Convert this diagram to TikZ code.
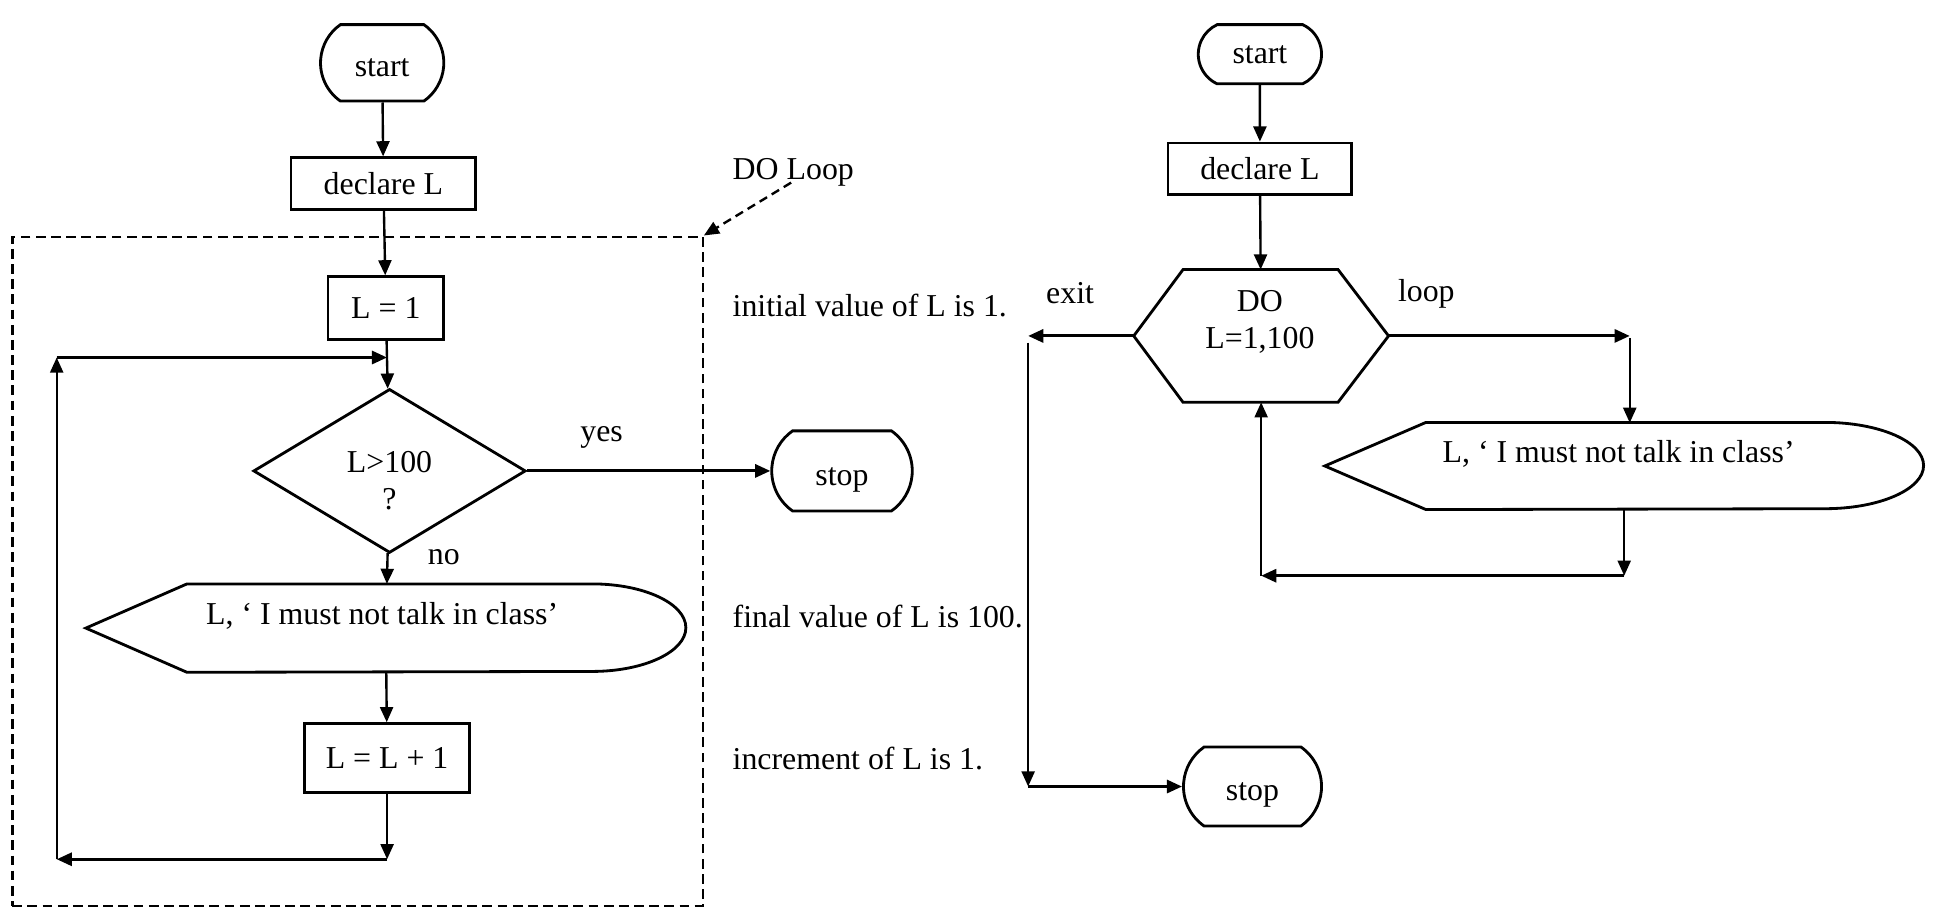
\documentclass[tikz,border=0pt]{standalone}
\usepackage{fontspec}
\setmainfont{Liberation Serif}
\usetikzlibrary{arrows.meta,shapes.geometric,shapes.misc,positioning}

\begin{document}
\begin{tikzpicture}
    [
      every node/.style={font=\fontsize{14.7}{17}\selectfont},
      term/.style={rounded rectangle,rounded rectangle arc length=110,draw,line width=1.3pt,inner sep=0pt},
      low text/.style={text height=16pt,text depth=3pt},
      proc/.style={rectangle,draw,line width=1.3pt,inner sep=0pt},
      test/.style={diamond,draw,line width=1.3pt,inner sep=0pt},
      frame/.style={inner sep=0pt},
      box/.style={draw,line width=1.3pt},
      txt/.style={inner sep=0pt,anchor=west},
      plate/.style={draw,dash pattern=on 4.5pt off 2.5pt,line width=1.1pt,inner sep=0pt},
      post/.style={-{Triangle[length=7pt,width=6pt]},line width=1.1pt},
      wide post/.style={post,line width=1.4pt},
      note/.style={-{Triangle[length=7pt,width=6pt]},dash pattern=on 4pt off 2.5pt,line width=1.1pt},
    ]

    \useasboundingbox (0,0) rectangle (31.36,-14.73);

    % left chart
    \node (start-l) [term,low text,minimum width=2cm,minimum height=1.24cm] at (6.20,-1.02) {start};
    \node (declare-l) [proc,minimum width=3cm,minimum height=0.84cm] at (6.22,-2.98) {declare L};
    \node (init-l) [proc,minimum width=1.88cm,minimum height=1.02cm] at (6.26,-5.00) {L = 1};
    \node (test-l) [test,minimum width=4.42cm,minimum height=2.66cm,
      label={[align=center,yshift=-0.16cm]center:L>100\\?}] at (6.32,-7.64) {};
    \node (stop-l) [term,low text,minimum width=2.28cm,minimum height=1.30cm] at (13.66,-7.64) {stop};
    \node (say-l) [frame,minimum width=9.72cm,minimum height=1.42cm] at (6.26,-10.19) {};
    \node (say-l-text) at (6.20,-10.00) {L, ‘ I must not talk in class’};
    \draw [box] (say-l.west) -- ([xshift=1.64cm]say-l.north west) -- ([xshift=-1.52cm]say-l.north east)
      arc [start angle=90,end angle=-90,x radius=1.52cm,y radius=0.71cm]
      -- ([xshift=1.64cm]say-l.south west) -- cycle;
    \node (incr-l) [proc,minimum width=2.68cm,minimum height=1.12cm] at (6.28,-12.30) {L = L + 1};

    \node (yes-lbl) at (9.76,-7.10) {yes};
    \node (no-lbl) at (7.20,-9.04) {no};

    \coordinate (back-br) at (6.28,-13.94);
    \coordinate (back-bl) at (0.92,-13.94);
    \coordinate (back-tl) at (0.92,-5.80);
    \coordinate (back-tr) at (6.28,-5.80);

    \path
    (start-l) edge [post] (declare-l)
    (declare-l) edge [post] (init-l)
    (init-l) edge [post] (test-l)
    (test-l) edge [wide post] (stop-l)
    (test-l) edge [post] (say-l)
    (say-l) edge [post] (incr-l)
    (incr-l) edge [post] (back-br)
    (back-br) edge [wide post] (back-bl)
    (back-bl) edge [post] (back-tl)
    (back-tl) edge [wide post] (back-tr)
    ;

    \node (loop-plate) [plate,minimum width=11.2cm,minimum height=10.86cm] at (5.80,-9.27) {};
    \node (do-note) [txt] at (11.88,-2.80) {DO Loop};
    \draw [note] ([xshift=-1pt,yshift=2pt]do-note.south) -- (loop-plate.north east);
    \node (init-note) [txt] at (11.88,-4.96) {initial value of L is 1.};
    \node (final-note) [txt] at (11.88,-10.00) {final value of L is 100.};
    \node (incr-note) [txt] at (11.88,-12.30) {increment of L is 1.};

    % right chart
    \node (start-r) [term,rounded rectangle arc length=130,minimum width=2cm,minimum height=0.96cm] at (20.44,-0.88) {start};
    \node (declare-r) [proc,minimum width=2.98cm,minimum height=0.84cm] at (20.44,-2.74) {declare L};
    \node (do-r) [frame,minimum width=4.12cm,minimum height=2.14cm] at (20.46,-5.45) {};
    \node (do-r-text) [align=center] at (20.44,-5.22) {DO\\L=1,100};
    \draw [box] (do-r.west) -- ([xshift=0.80cm]do-r.north west) -- ([xshift=-0.82cm]do-r.north east)
      -- (do-r.east) -- ([xshift=-0.82cm]do-r.south east) -- ([xshift=0.80cm]do-r.south west) -- cycle;
    \node (stop-r) [term,low text,minimum width=2.24cm,minimum height=1.28cm] at (20.32,-12.76) {stop};
    \node (say-r) [frame,minimum width=9.70cm,minimum height=1.40cm] at (26.35,-7.56) {};
    \node (say-r-text) at (26.26,-7.36) {L, ‘ I must not talk in class’};
    \draw [box] (say-r.west) -- ([xshift=1.64cm]say-r.north west) -- ([xshift=-1.60cm]say-r.north east)
      arc [start angle=90,end angle=-90,x radius=1.60cm,y radius=0.70cm]
      -- ([xshift=1.64cm]say-r.south west) -- cycle;

    \node (exit-lbl) at (17.36,-4.76) {exit};
    \node (loop-lbl) at (23.14,-4.76) {loop};

    \coordinate (exit-end) at (16.68,-5.45);
    \coordinate (exit-top) at (16.68,-5.56);
    \coordinate (exit-bot) at (16.68,-12.76);
    \coordinate (loop-end) at (26.44,-5.45);
    \coordinate (loop-top) at (26.44,-5.48);
    \coordinate (loop-bot) at (26.44,-6.86);
    \coordinate (ret-r) at (26.35,-9.34);
    \coordinate (ret-l) at (20.46,-9.34);

    \path
    (start-r) edge [post] (declare-r)
    (declare-r) edge [post] (do-r)
    (do-r) edge [wide post] (exit-end)
    (exit-top) edge [post] (exit-bot)
    (exit-bot) edge [wide post] (stop-r)
    (do-r) edge [wide post] (loop-end)
    (loop-top) edge [post] (loop-bot)
    (say-r) edge [post] (ret-r)
    (ret-r) edge [wide post] (ret-l)
    (ret-l) edge [post] (do-r)
    ;

\end{tikzpicture}
\end{document}
